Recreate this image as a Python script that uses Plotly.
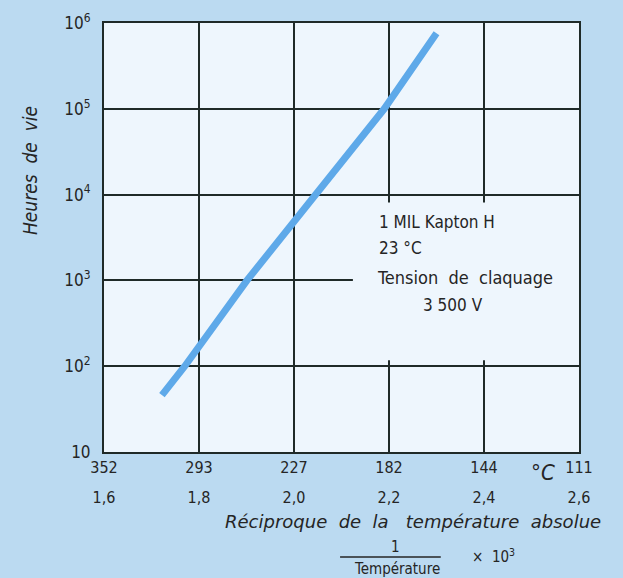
import plotly.graph_objects as go

# Reciprocal absolute temperature (1/T x 10^3) and life in hours
recip_temp = [1.722, 1.770, 1.901, 2.044, 2.190, 2.300]
life_hours = [46, 100, 1000, 10000, 100000, 760000]

x_ticks = [1.6, 1.8, 2.0, 2.2, 2.4, 2.6]
celsius_labels = ["352", "293", "227", "182", "144", "111"]
recip_labels = ["1,6", "1,8", "2,0", "2,2", "2,4", "2,6"]
y_ticks = [10, 100, 1000, 10000, 100000, 1000000]
y_labels = ["10", "10<sup>2</sup>", "10<sup>3</sup>", "10<sup>4</sup>", "10<sup>5</sup>", "10<sup>6</sup>"]

PAPER = "#bbdaf1"
PLOT_BG = "#eef6fd"
INK = "#252525"
GRID = "#1f2a28"
CURVE = "#5ea9e9"
COND = "DejaVu Sans Condensed, DejaVu Sans, sans-serif"
NARROW = "Liberation Sans Narrow, DejaVu Sans Condensed, sans-serif"

fig = go.Figure()
fig.add_trace(go.Scatter(
    x=recip_temp, y=life_hours, mode="lines",
    line=dict(color=CURVE, width=7),
    showlegend=False, hoverinfo="skip",
))
# dummy trace to carry the second row of x labels
fig.add_trace(go.Scatter(x=[1.6, 2.6], y=[10, 10], xaxis="x2", mode="none",
                         showlegend=False, hoverinfo="skip"))

fig.update_layout(
    width=623, height=578,
    margin=dict(l=104, r=44, t=23, b=126),
    paper_bgcolor=PAPER, plot_bgcolor=PLOT_BG,
    xaxis=dict(
        range=[1.6, 2.6], tickvals=x_ticks, ticktext=celsius_labels,
        showgrid=True, gridcolor=GRID, gridwidth=2,
        showline=True, linecolor=GRID, linewidth=2, mirror=True,
        ticks="", zeroline=False,
        tickfont=dict(family=COND, size=16, color=INK),
    ),
    xaxis2=dict(
        range=[1.6, 2.6], overlaying="x", side="bottom", anchor="y",
        tickvals=x_ticks, ticktext=recip_labels, showgrid=False,
        showline=False, ticks="", zeroline=False, ticklabelstandoff=34,
        tickfont=dict(family=COND, size=16, color=INK),
    ),
    yaxis=dict(
        type="log", range=[1, 6], tickvals=y_ticks, ticktext=y_labels,
        showgrid=True, gridcolor=GRID, gridwidth=2,
        showline=True, linecolor=GRID, linewidth=2, mirror=True,
        ticks="", zeroline=False, ticklabelstandoff=8,
        tickfont=dict(family=COND, size=17, color=INK),
    ),
)

# blank panel inside the grid that holds the specimen notes
fig.add_shape(type="rect", xref="x", yref="y", layer="between",
              x0=2.124, x1=2.6, y0=10**2.07, y1=10**3.907,
              fillcolor=PLOT_BG, line=dict(width=0))

notes = [
    dict(text="1 MIL Kapton H", x=0.575, y=0.536, font=dict(family=NARROW, size=17, color=INK)),
    dict(text="23 °C", x=0.575, y=0.476, font=dict(family=NARROW, size=17, color=INK)),
    dict(text="Tension  de  claquage", x=0.571, y=0.406, font=dict(family=COND, size=18, color=INK)),
]
for n in notes:
    fig.add_annotation(xref="paper", yref="paper", xanchor="left", yanchor="middle",
                       showarrow=False, **n)
fig.add_annotation(text="3 500 V", xref="paper", yref="paper", x=0.735, y=0.343,
                   xanchor="center", yanchor="middle", showarrow=False,
                   font=dict(family=COND, size=17, color=INK))

# axis titles
fig.add_annotation(text="<i>Heures  de  vie</i>", xref="paper", yref="paper",
                   x=-0.156, y=0.657, textangle=-90, showarrow=False,
                   xanchor="center", yanchor="middle",
                   font=dict(family=COND, size=19, color=INK))
fig.add_annotation(text="<i>°C</i>", xref="paper", yref="paper", x=0.924, y=-0.047,
                   showarrow=False, xanchor="center", yanchor="middle",
                   font=dict(family=COND, size=22, color=INK))
fig.add_annotation(text="<i>Réciproque  de  la   température  absolue</i>",
                   xref="paper", yref="paper", x=0.651, y=-0.161,
                   showarrow=False, xanchor="center", yanchor="middle",
                   font=dict(family="DejaVu Sans, sans-serif", size=18, color=INK))
fig.add_annotation(text="1", xref="paper", yref="paper", x=0.613, y=-0.221,
                   showarrow=False, xanchor="center", yanchor="middle",
                   font=dict(family=NARROW, size=15, color=INK))
fig.add_shape(type="line", xref="paper", yref="paper", x0=0.497, x1=0.709,
              y0=-0.245, y1=-0.245, line=dict(color=INK, width=1.5))
fig.add_annotation(text="Température", xref="paper", yref="paper", x=0.617, y=-0.272,
                   showarrow=False, xanchor="center", yanchor="middle",
                   font=dict(family=NARROW, size=15, color=INK))
fig.add_annotation(text="×  10<sup>3</sup>", xref="paper", yref="paper", x=0.771, y=-0.243,
                   showarrow=False, xanchor="left", yanchor="middle",
                   font=dict(family=NARROW, size=15, color=INK))

fig.write_html("out.html")
